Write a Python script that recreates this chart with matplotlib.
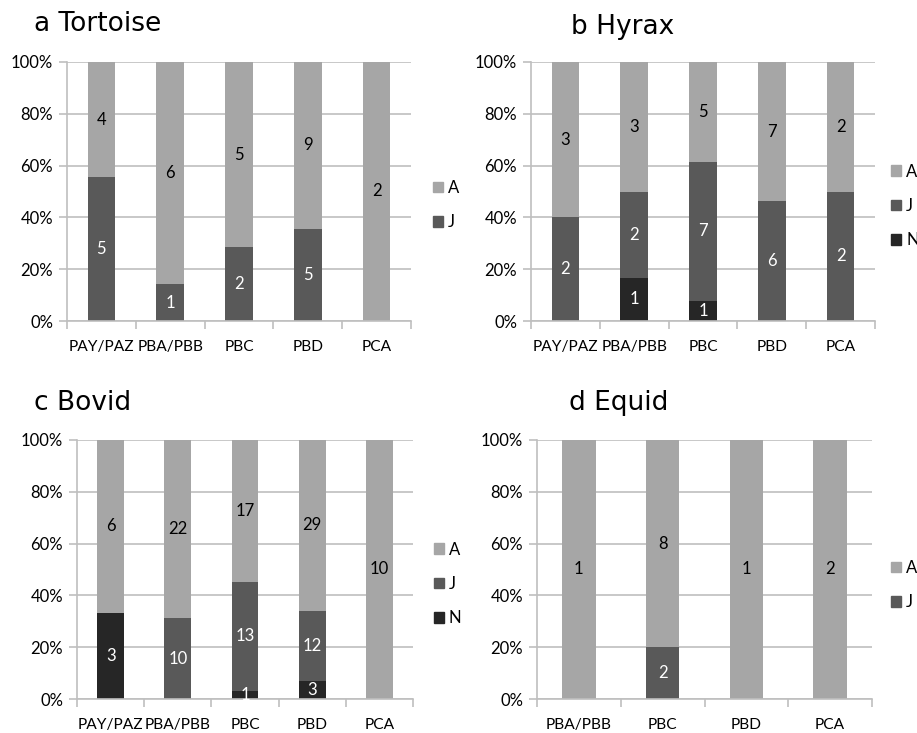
import matplotlib
matplotlib.use('Agg')
import matplotlib.pyplot as plt
from matplotlib.patches import Patch
from matplotlib.ticker import FixedLocator, PercentFormatter

# counts per age class (A = adult, J = juvenile, N = neonate)
sites5 = ['PAY/PAZ', 'PBA/PBB', 'PBC', 'PBD', 'PCA']
sites4 = ['PBA/PBB', 'PBC', 'PBD', 'PCA']

tortoise_A = [4, 6, 5, 9, 2]
tortoise_J = [5, 1, 2, 5, 0]

hyrax_A = [3, 3, 5, 7, 2]
hyrax_J = [2, 2, 7, 6, 2]
hyrax_N = [0, 1, 1, 0, 0]

bovid_A = [6, 22, 17, 29, 10]
bovid_J = [0, 10, 13, 12, 0]
bovid_N = [3, 0, 1, 3, 0]

equid_A = [1, 8, 1, 2]
equid_J = [0, 2, 0, 0]

col = {'A': '#a6a6a6', 'J': '#595959', 'N': '#262626'}
txtcol = {'A': 'black', 'J': 'white', 'N': 'white'}
grid = '#bfbfbf'
tickfont = 'Lato'

fig = plt.figure(figsize=(9.17, 7.33), dpi=100)
W, H = 917, 733


def box(x0, y0, x1, y1):
    # pixel box -> figure fraction
    return [x0 / W, 1 - y1 / H, (x1 - x0) / W, (y1 - y0) / H]


def panel(rect, title, title_xy, cats, series, leg_xy):
    ax = fig.add_axes(rect)
    n = len(cats)
    x = list(range(n))
    totals = [sum(s[1][i] for s in series) for i in range(n)]
    bottom = [0.0] * n
    for key, vals in series:
        frac = [v / t * 100 if t else 0 for v, t in zip(vals, totals)]
        ax.bar(x, frac, width=0.4, bottom=bottom, color=col[key], zorder=2)
        for i in range(n):
            if vals[i] > 0:
                ax.text(x[i], bottom[i] + frac[i] / 2, str(vals[i]),
                        ha='center', va='center', color=txtcol[key],
                        fontsize=12, family=tickfont, zorder=3)
        bottom = [b + f for b, f in zip(bottom, frac)]

    ax.set_xlim(-0.5, n - 0.5)
    ax.set_ylim(0, 100)
    ax.set_yticks(range(0, 101, 20))
    ax.yaxis.set_major_formatter(PercentFormatter(decimals=0))
    ax.yaxis.grid(True, color=grid, lw=1.2, zorder=0)
    ax.xaxis.set_major_locator(FixedLocator([i - 0.5 for i in range(n + 1)]))
    ax.xaxis.set_major_formatter(plt.NullFormatter())
    ax.xaxis.set_minor_locator(FixedLocator(x))
    ax.set_xticklabels(cats, minor=True)
    ax.tick_params(axis='x', which='major', length=6, color=grid, width=1.2)
    ax.tick_params(axis='x', which='minor', length=0, pad=14, labelsize=11.2)
    ax.tick_params(axis='y', length=6, color=grid, width=1.2, pad=4, labelsize=12)
    for lab in ax.get_xticklabels(minor=True) + ax.get_yticklabels():
        lab.set_family(tickfont)
    for s in ['top', 'right']:
        ax.spines[s].set_visible(False)
    for s in ['left', 'bottom']:
        ax.spines[s].set_color(grid)
        ax.spines[s].set_linewidth(1.2)

    fig.text(title_xy[0] / W, 1 - title_xy[1] / H, title, fontsize=19,
             family='DejaVu Sans', ha='left', va='center')

    handles = [Patch(color=col[k], label=k) for k, _ in reversed(series)]
    fig.legend(handles=handles, loc='center left',
               bbox_to_anchor=(leg_xy[0] / W, 1 - leg_xy[1] / H),
               frameon=False, borderpad=0, borderaxespad=0,
               handlelength=0.6, handleheight=0.6, handletextpad=0.3,
               labelspacing=1.1, prop={'family': tickfont, 'size': 12})
    return ax


panel(box(67, 62, 411, 321), 'a Tortoise', (34, 24), sites5,
      [('J', tortoise_J), ('A', tortoise_A)], (433, 205))
panel(box(531, 62, 875, 321), 'b Hyrax', (571, 27), sites5,
      [('N', hyrax_N), ('J', hyrax_J), ('A', hyrax_A)], (891, 206))
panel(box(77, 440, 413, 699), 'c Bovid', (34, 403), sites5,
      [('N', bovid_N), ('J', bovid_J), ('A', bovid_A)], (434, 584))
panel(box(537, 440, 872, 699), 'd Equid', (569, 403), sites4,
      [('J', equid_J), ('A', equid_A)], (891, 585))

fig.savefig('out.png', dpi=100)
